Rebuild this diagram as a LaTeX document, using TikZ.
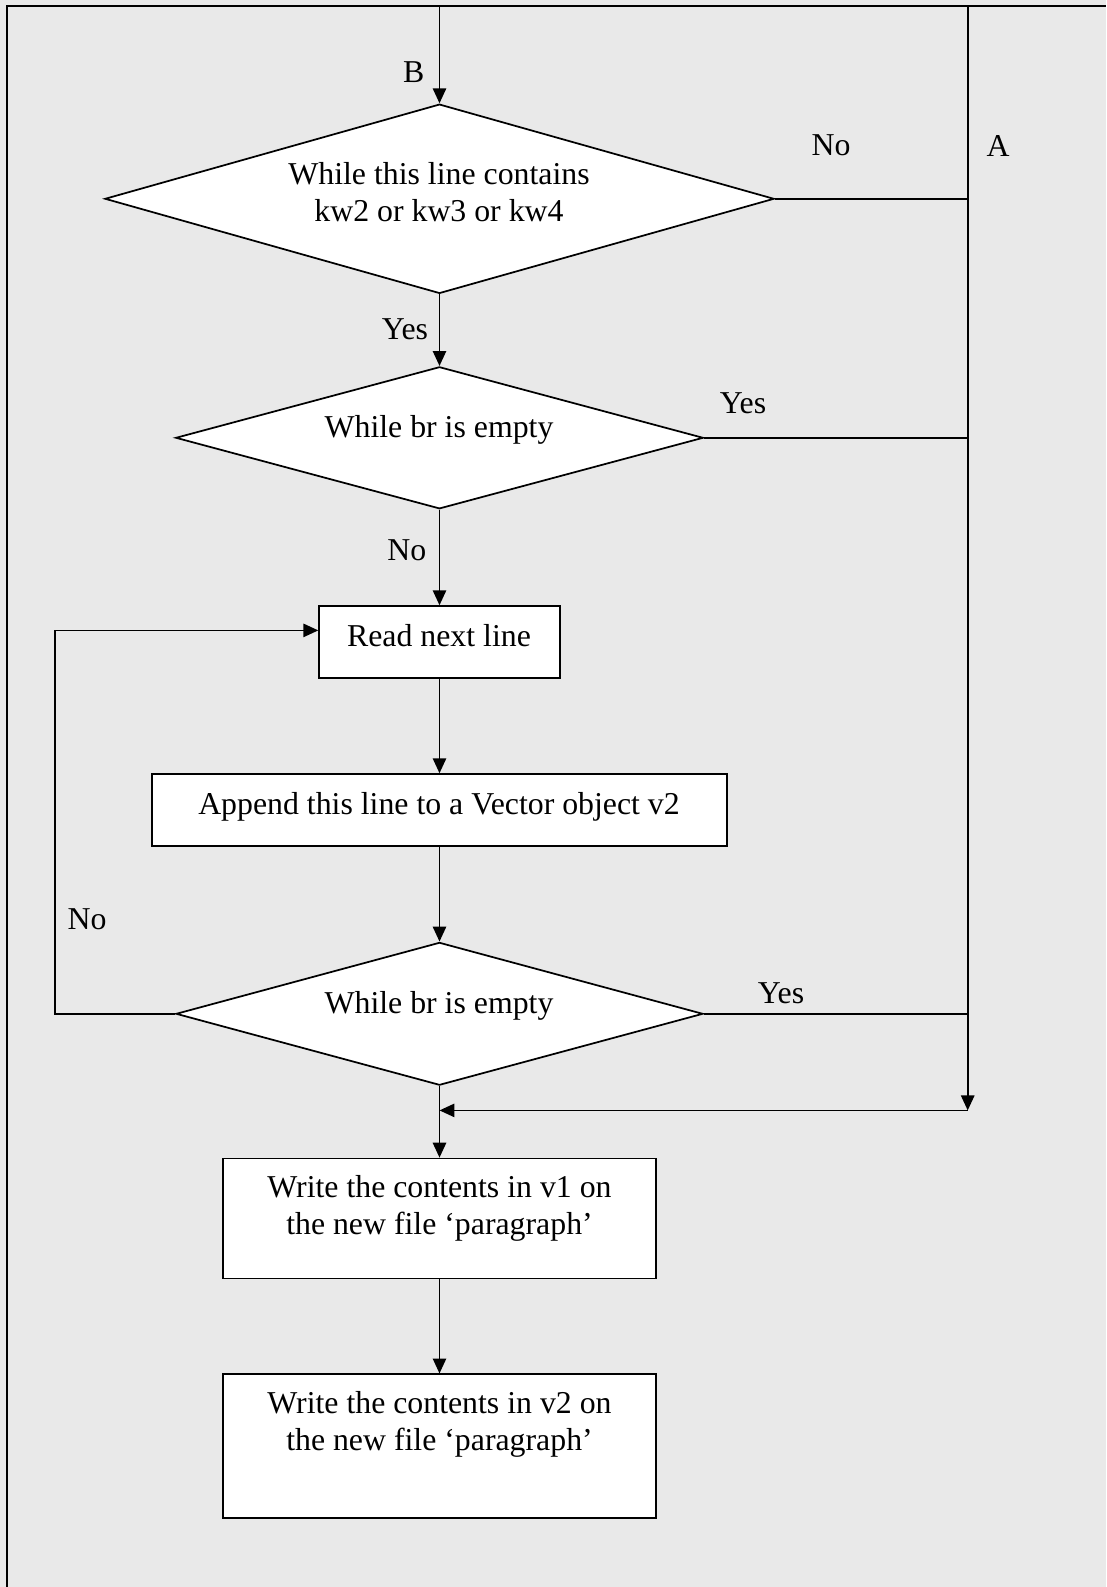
\documentclass[tikz,border=0pt]{standalone}
\usepackage{fontspec}
\setmainfont{Liberation Serif}
\usetikzlibrary{shapes.geometric,arrows.meta}
\definecolor{panel}{RGB}{233,233,233}
\def\u{0.375pt}
\begin{document}
\begin{tikzpicture}[x=0.375pt,y=-0.375pt,
  font=\fontsize{11.93}{13.95}\selectfont,
  line/.style={line width=0.65pt, draw=black},
  flow/.style={line, -{Triangle[length=5.6pt,width=5pt]}},
  frame/.style={line width=0.85pt, draw=black},
  decision/.style 2 args={diamond, draw, line width=0.65pt, fill=white,
    inner sep=0pt, minimum width=#1*\u, minimum height=#2*\u},
  process/.style 2 args={rectangle, draw, line width=0.65pt, fill=white,
    inner sep=0pt, minimum width=#1*\u, minimum height=#2*\u},
  txt/.style={anchor=base, align=center, inner sep=0pt},
  lbl/.style={inner sep=0pt}]

% page background and frame
\fill[panel] (0,0) rectangle (1106,1587);
\useasboundingbox (0,0) rectangle (1106,1587);
\draw[frame] (7,1587) -- (7,5.7) -- (1106,5.7);

% shapes
\node[decision={669.2}{189.3}] (d1) at (439.5,198.8) {};
\node[decision={527.6}{142}]   (d2) at (439.5,437.8) {};
\node[process={240.7}{72}]     (rd) at (439.5,642.1) {};
\node[process={575.6}{72}]     (ap) at (439.5,810.1) {};
\node[decision={527}{142.8}]   (d3) at (439.5,1013.8) {};
\node[process={432.7}{120}]    (w1) at (439.5,1218.5) {};
\node[process={432.7}{144}]    (w2) at (439.5,1446.3) {};

% texts inside the shapes (base = baseline of the last line)
\node[txt] (d1t) at (439,221.4) {While this line contains\\kw2 or kw3 or kw4};
\node[txt] (d2t) at (439,437.8) {While br is empty};
\node[txt] (rdt) at (439,646.6) {Read next line};
\node[txt] (apt) at (439,814.7) {Append this line to a Vector object v2};
\node[txt] (d3t) at (439,1013.4) {While br is empty};
\node[txt] (w1t) at (439.5,1234.8) {Write the contents in v1 on\\the new file ‘paragraph’};
\node[txt] (w2t) at (439.5,1450.6) {Write the contents in v2 on\\the new file ‘paragraph’};

% helper points
\coordinate (top)  at (439.5,5.7);
\coordinate (atop) at (967.7,5.7);
\coordinate (abot) at (967.7,1110.4);
\coordinate (join) at (439.5,1110.4);
\coordinate (lp)   at (55.3,630.4);

% connectors
\draw[flow] (top) -- (d1.north);
\draw[flow] (d1.south) -- (d2.north);
\draw[flow] (d2.south) -- (rd.north);
\draw[flow] (rd.south) -- (ap.north);
\draw[flow] (ap.south) -- (d3.north);
\draw[flow] (d3.south) -- (w1.north);
\draw[flow] (w1.south) -- (w2.north);
\draw[flow] (d3.west) -| (lp) -- (lp -| rd.west);
\draw[flow] (atop) -- (abot);
\draw[flow] (abot) -- (join);
\draw[line] (d1.east) -- (d1.east -| atop);
\draw[line] (d2.east) -- (d2.east -| atop);
\draw[line] (d3.east) -- (d3.east -| atop);

% connector labels
\node[lbl] (lB)    at (413.8,72.3)  {B};
\node[lbl] (lNo1)  at (831,145.5)   {No};
\node[lbl] (lA)    at (998,146)     {A};
\node[lbl] (lYes1) at (404.9,329.3) {Yes};
\node[lbl] (lYes2) at (743,403)     {Yes};
\node[lbl] (lNo2)  at (406.9,550.6) {No};
\node[lbl] (lNo3)  at (87,919.5)    {No};
\node[lbl] (lYes3) at (781,993)     {Yes};
\end{tikzpicture}
\end{document}
